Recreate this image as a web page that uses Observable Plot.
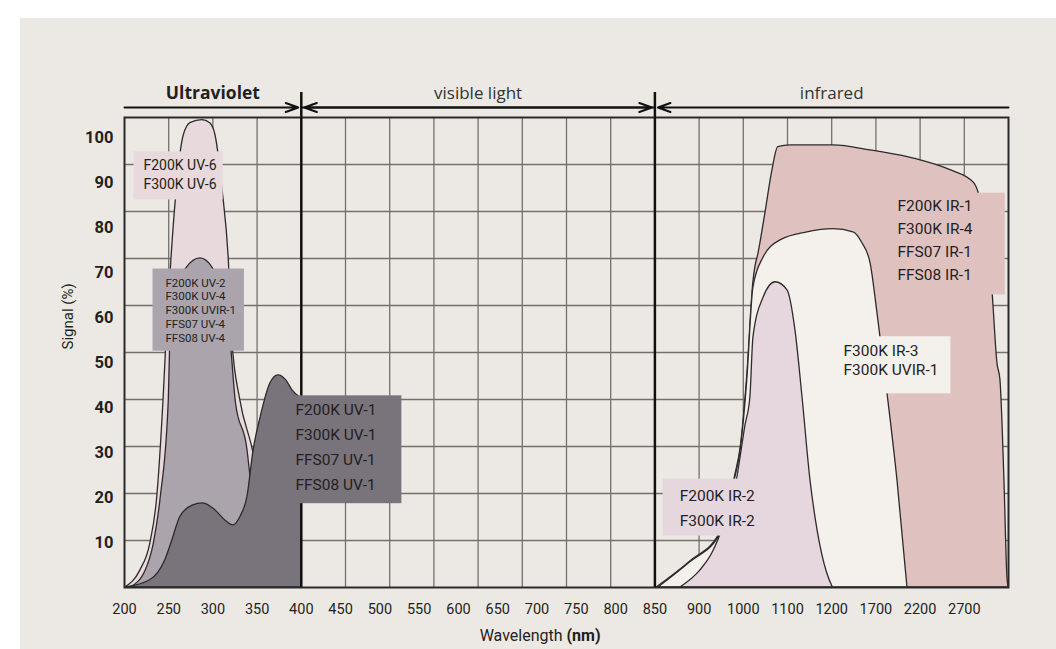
<!DOCTYPE html>
<html><head><meta charset="utf-8">
<script src="https://cdn.jsdelivr.net/npm/d3@7"></script>
<script src="https://cdn.jsdelivr.net/npm/@observablehq/plot@0.6"></script>
<style>
html,body{margin:0;padding:0;background:#fff;}
body{width:1056px;height:649px;overflow:hidden;position:relative;}
#bg{position:absolute;left:20px;top:18px;right:0;bottom:0;background:#ece9e4;}
#chart{position:absolute;left:0;top:0;}
</style></head>
<body><div id="bg"></div><div id="chart"></div>
<script>
// ---------- axis / grid definitions ----------
const xTicks = [200,250,300,350,400,450,500,550,600,650,700,750,800,850,900,1000,1100,1200,1700,2200,2700];
const gridBreaks = [200,400,850,900,1000,1100,1200,1700,2200,2700,3200]; // wavelength at grid steps
const gridSteps  = [0,4,12,13,14,15,16,17,18,19,20];
const yTicks = [10,20,30,40,50,60,70,80,90,100];
const yTop = 104.4; // value at top edge of frame

// ---------- spectral regions ----------
const regionNames = ["Ultraviolet","visible light","infrared"];
const regionFrom  = [200,400,850];
const regionTo    = [400,850,3200];

// ---------- series: [wavelength nm, signal %] ----------
const uv6 = [[201,0],[218,3.8],[229,9.6],[237,20],[244,41.1],[247.5,54.9],[253,72.7],[258,86],[267,100.4],[275,103.2],[288,103.8],[297,103.1],[303,100.4],[311,88.2],[318,72.7],[322,54.9],[331,41.6],[345,30.7],[352,23.8],[365,6],[382,0]];
const uv2 = [[207,0],[224,3.8],[233,9.6],[241,20],[250,41.1],[252,54.9],[259,63.8],[270,70.9],[286,73.1],[300,70.9],[313,63.8],[320,54.9],[326,41.1],[339,30.7],[343,23.8],[356,6],[371,0]];
const uv1 = [[201,0],[229,1.6],[246,6],[254,10.4],[263,15.6],[277,18.2],[289,18.7],[303,17.1],[314,14.9],[323,13.8],[332,16],[339,20],[346,30.4],[354,37.8],[365,45.3],[374,47.1],[383,46],[390,43.8],[400,42]];
const ir1 = [[852,0],[890,5.8],[948,12.2],[982,25],[994,31],[1009,47],[1023,68],[1027,71],[1034,74],[1050,83.1],[1066,92.7],[1079,97.8],[1107,98.2],[1220,98.2],[1639,97.1],[2205,94.9],[2544,92.7],[2804,90],[2860,87.8],[2940,79.3],[3018,66],[3075,49.8],[3109,46],[3154,23.8],[3188,2.2],[3200,0]];
const ir3 = [[854,0],[890,5.6],[948,11.8],[982,24.4],[994,30.4],[1009,46],[1023,66.7],[1046,73.3],[1084,77.1],[1145,78.9],[1220,79.6],[1447,78.9],[1549,76.4],[1640,72],[1718,60.9],[1831,43.1],[1944,23.8],[2057,0]];
const ir2 = [[879,0],[903,3.8],[930,7.6],[960,14.9],[982,22],[1005,36],[1016,42.2],[1023,55.6],[1046,64.4],[1073,67.8],[1100,66],[1118,57.1],[1134,42.2],[1152,23.8],[1168,12.7],[1190,3.1],[1213,0]];

const seriesOrder = [uv6, uv2, uv1, ir1, ir3, ir2];
const seriesFill  = ["#e8d9dc","#aba4ac","#79737b","#dfc1c0","#f4f1ed","#e5d7dd"];

// ---------- annotation labels ----------
const labelTexts = [
  "F200K UV-6\nF300K UV-6",
  "F200K UV-2\nF300K UV-4\nF300K UVIR-1\nFFS07 UV-4\nFFS08 UV-4",
  "F200K UV-1\nF300K UV-1\nFFS07 UV-1\nFFS08 UV-1",
  "F200K IR-1\nF300K IR-4\nFFS07 IR-1\nFFS08 IR-1",
  "F300K IR-3\nF300K UVIR-1",
  "F200K IR-2\nF300K IR-2"
];
const labelX = [221.5, 246.4, 393.4, 1944, 1333, 878];
const labelY = [91.9, 61.7, 31.7, 77.6, 50.6, 18.3];
const labelSize = [14, 11.5, 15.5, 15.5, 15.5, 15.5];
const labelLine = [1.36, 1.2, 1.61, 1.5, 1.23, 1.61];
const labelFill = ["#e8d9dc","#aba4ac","#79737b","#dfc1c0","#f4f1ed","#e5d7dd"];
const labelPad  = [[6,6,7,10],[7,8,6,13],[6,25,9,2],[4,32,10,4],[6,12,14,3],[8,2,6,17]]; // top,right,bottom,left

// ---------- layout ----------
const W = 1056, H = 649, mL = 124, mR = 48, mT = 117, mB = 62;
const plotW = W - mL - mR;
const kToNm = d3.scaleLinear().domain(gridSteps).range(gridBreaks);
const nmToK = d3.scaleLinear().domain(gridBreaks).range(gridSteps);
const gridX = d3.range(1, 20).map(k => kToNm(k));
const gridY = d3.range(1, 10).map(i => yTop * i / 10);
const regionCenter = regionNames.map((_, i) => kToNm((nmToK(regionFrom[i]) + nmToK(regionTo[i])) / 2));

const SANS = "Roboto, 'Liberation Sans', sans-serif";
const HEAD = "'Open Sans', sans-serif";
const INK = "#231f20";
const GRID = "#74706d";
const LINE = "#2e2a2b";

const areas = seriesOrder.map((s, i) => Plot.areaY(s, {
  x: d => d[0], y: d => d[1], fill: seriesFill[i], stroke: LINE, strokeWidth: 1.3, curve: "monotone-x"
}));

const arrowsData = [
  {x1: regionFrom[0], x2: regionTo[0]},
  {x1: regionFrom[1], x2: regionTo[1]},
  {x1: regionTo[1], x2: regionFrom[1]},
  {x1: regionTo[2], x2: regionFrom[2]}
];

const labelMarks = labelTexts.map((t, i) => Plot.text([t], {
  x: () => labelX[i], y: () => labelY[i], text: d => d,
  textAnchor: "start", lineAnchor: "middle", lineHeight: labelLine[i],
  fontSize: labelSize[i], fill: INK, fontFamily: SANS
}));

const plot = Plot.plot({
  width: W, height: H,
  marginLeft: mL, marginRight: mR, marginTop: mT, marginBottom: mB,
  style: {fontFamily: SANS, background: "transparent", color: INK, overflow: "visible"},
  x: {type: "linear", domain: gridBreaks, range: gridSteps.map(k => mL + k * plotW / 20)},
  y: {domain: [0, yTop]},
  marks: [
    Plot.ruleX(gridX, {stroke: GRID, strokeWidth: 1.3}),
    Plot.ruleY(gridY, {stroke: GRID, strokeWidth: 1.3}),
    ...areas,
    Plot.frame({stroke: "#2a2a2a", strokeWidth: 2}),
    Plot.ruleX([regionTo[0], regionTo[1]], {stroke: "#111", strokeWidth: 2.5, insetTop: -25}),
    Plot.arrow(arrowsData, {
      x1: "x1", x2: "x2", y1: () => yTop, y2: () => yTop, dy: -10,
      insetEnd: 3, headLength: 10, headAngle: 40, stroke: "#111", strokeWidth: 2
    }),
    Plot.text([regionNames[0]], {x: () => regionCenter[0], y: () => yTop, dy: -24, text: d => d,
      fontFamily: HEAD, fontWeight: "bold", fontSize: 17.5, fill: INK}),
    Plot.text(regionNames.slice(1), {x: (d, i) => regionCenter[i + 1], y: () => yTop, dy: -24, text: d => d,
      fontFamily: HEAD, fontSize: 17, fill: "#333"}),
    Plot.axisX(xTicks, {tickSize: 0, tickPadding: 16, fontSize: 14.5, tickFormat: d => String(d), label: null, fontFamily: SANS}),
    Plot.axisY(yTicks, {tickSize: 0, tickPadding: 11, fontSize: 16.5, fontWeight: "bold", label: null, fontFamily: SANS}),
    Plot.text(["Signal (%)"], {frameAnchor: "left", dx: -56, dy: -3, rotate: -90, text: d => d, fontSize: 15, fontFamily: SANS, fill: INK}),
    Plot.text(["Wavelength "], {frameAnchor: "bottom", dx: 0, dy: 53, textAnchor: "end", text: d => d, fontSize: 16, fontFamily: SANS, fill: INK}),
    Plot.text(["(nm)"], {frameAnchor: "bottom", dx: 0, dy: 53, textAnchor: "start", text: d => d, fontSize: 16, fontWeight: "bold", fontFamily: SANS, fill: INK}),
    ...labelMarks
  ]
});

document.getElementById("chart").append(plot);

// background boxes behind annotation labels (matched by their text content)
const svgNS = "http://www.w3.org/2000/svg";
const flatLabels = labelTexts.map(t => t.replace(/\n/g, ""));
plot.querySelectorAll("text").forEach(t => {
  const i = flatLabels.indexOf(t.textContent);
  if (i < 0) return;
  const b = t.getBBox();
  const [pt, pr, pb, pl] = labelPad[i];
  const r = document.createElementNS(svgNS, "rect");
  r.setAttribute("x", b.x - pl);
  r.setAttribute("y", b.y - pt);
  r.setAttribute("width", b.width + pl + pr);
  r.setAttribute("height", b.height + pt + pb);
  r.setAttribute("fill", labelFill[i]);
  const tr = t.getAttribute("transform");
  if (tr) r.setAttribute("transform", tr);
  t.parentNode.insertBefore(r, t);
});
</script>
</body></html>
